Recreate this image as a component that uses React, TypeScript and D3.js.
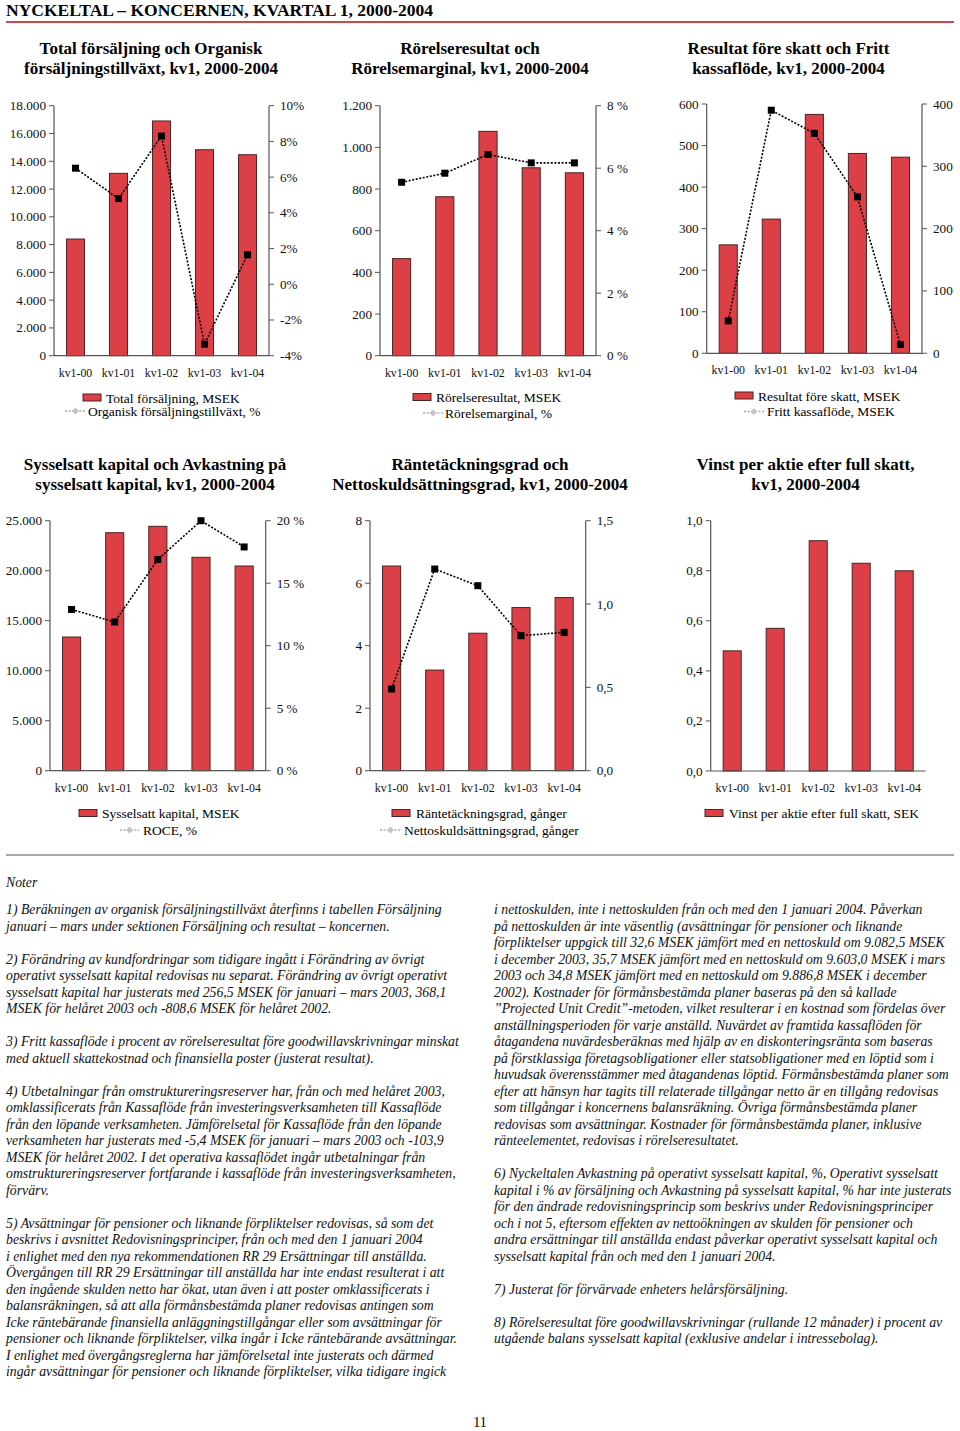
import React from "react";
import * as d3 from "d3";

// ---------- DATA ----------
const categories = ["kv1-00", "kv1-01", "kv1-02", "kv1-03", "kv1-04"];

const totalSales = [8400, 13130, 16900, 14830, 14470];
const organicGrowth = [6.5, 4.8, 8.3, -3.35, 1.65];

const operatingIncome = [466, 763, 1077, 902, 878];
const operatingMargin = [5.55, 5.84, 6.44, 6.17, 6.17];

const incomeBeforeTax = [261, 323, 575, 481, 472];
const freeCashFlow = [52, 390, 353, 251, 14];

const capitalEmployed = [13370, 23800, 24440, 21340, 20470];
const roce = [12.9, 11.9, 16.9, 20.0, 17.9];

const interestCoverage = [6.55, 3.22, 4.4, 5.22, 5.54];
const netDebtEquity = [0.49, 1.21, 1.11, 0.81, 0.83];

const epsAfterTax = [0.48, 0.57, 0.92, 0.83, 0.8];

const ticksSales = [0, 2000, 4000, 6000, 8000, 10000, 12000, 14000, 16000, 18000];
const ticksGrowth = [-4, -2, 0, 2, 4, 6, 8, 10];
const ticksOpInc = [0, 200, 400, 600, 800, 1000, 1200];
const ticksMargin = [0, 2, 4, 6, 8];
const ticksIbt = [0, 100, 200, 300, 400, 500, 600];
const ticksFcf = [0, 100, 200, 300, 400];
const ticksCap = [0, 5000, 10000, 15000, 20000, 25000];
const ticksRoce = [0, 5, 10, 15, 20];
const ticksCov = [0, 2, 4, 6, 8];
const ticksDebt = [0, 0.5, 1.0, 1.5];
const ticksEps = [0, 0.2, 0.4, 0.6, 0.8, 1.0];

const pageTitle = "NYCKELTAL – KONCERNEN, KVARTAL 1, 2000-2004";
const pageNumber = "11";

const notesLeft: string[][] = [
  [
    "1) Beräkningen av organisk försäljningstillväxt återfinns i tabellen Försäljning",
    "januari – mars under sektionen Försäljning och resultat – koncernen.",
  ],
  [
    "2) Förändring av kundfordringar som tidigare ingått i Förändring av övrigt",
    "operativt sysselsatt kapital redovisas nu separat. Förändring av övrigt operativt",
    "sysselsatt kapital har justerats med 256,5 MSEK för januari – mars 2003, 368,1",
    "MSEK för helåret 2003 och -808,6 MSEK för helåret 2002.",
  ],
  [
    "3) Fritt kassaflöde i procent av rörelseresultat före goodwillavskrivningar minskat",
    "med aktuell skattekostnad och finansiella poster (justerat resultat).",
  ],
  [
    "4) Utbetalningar från omstruktureringsreserver har, från och med helåret 2003,",
    "omklassificerats från Kassaflöde från investeringsverksamheten till Kassaflöde",
    "från den löpande verksamheten. Jämförelsetal för Kassaflöde från den löpande",
    "verksamheten har justerats med -5,4 MSEK för januari – mars 2003 och -103,9",
    "MSEK för helåret 2002. I det operativa kassaflödet ingår utbetalningar från",
    "omstruktureringsreserver fortfarande i kassaflöde från investeringsverksamheten,",
    "förvärv.",
  ],
  [
    "5) Avsättningar för pensioner och liknande förpliktelser redovisas, så som det",
    "beskrivs i avsnittet Redovisningsprinciper, från och med den 1 januari 2004",
    "i enlighet med den nya rekommendationen RR 29 Ersättningar till anställda.",
    "Övergången till RR 29 Ersättningar till anställda har inte endast resulterat i att",
    "den ingående skulden netto har ökat, utan även i att poster omklassificerats i",
    "balansräkningen, så att alla förmånsbestämda planer redovisas antingen som",
    "Icke räntebärande finansiella anläggningstillgångar eller som avsättningar för",
    "pensioner och liknande förpliktelser, vilka ingår i Icke räntebärande avsättningar.",
    "I enlighet med övergångsreglerna har jämförelsetal inte justerats och därmed",
    "ingår avsättningar för pensioner och liknande förpliktelser, vilka tidigare ingick",
  ],
];

const notesRight: string[][] = [
  [
    "i nettoskulden, inte i nettoskulden från och med den 1 januari 2004. Påverkan",
    "på nettoskulden är inte väsentlig (avsättningar för pensioner och liknande",
    "förpliktelser uppgick till 32,6 MSEK jämfört med en nettoskuld om 9.082,5 MSEK",
    "i december 2003, 35,7 MSEK jämfört med en nettoskuld om 9.603,0 MSEK i mars",
    "2003 och 34,8 MSEK jämfört med en nettoskuld om 9.886,8 MSEK i december",
    "2002). Kostnader för förmånsbestämda planer baseras på den så kallade",
    "”Projected Unit Credit”-metoden, vilket resulterar i en kostnad som fördelas över",
    "anställningsperioden för varje anställd. Nuvärdet av framtida kassaflöden för",
    "åtagandena nuvärdesberäknas med hjälp av en diskonteringsränta som baseras",
    "på förstklassiga företagsobligationer eller statsobligationer med en löptid som i",
    "huvudsak överensstämmer med åtagandenas löptid. Förmånsbestämda planer som",
    "efter att hänsyn har tagits till relaterade tillgångar netto är en tillgång redovisas",
    "som tillgångar i koncernens balansräkning. Övriga förmånsbestämda planer",
    "redovisas som avsättningar. Kostnader för förmånsbestämda planer, inklusive",
    "ränteelementet, redovisas i rörelseresultatet.",
  ],
  [
    "6) Nyckeltalen Avkastning på operativt sysselsatt kapital, %, Operativt sysselsatt",
    "kapital i % av försäljning och Avkastning på sysselsatt kapital, % har inte justerats",
    "för den ändrade redovisningsprincip som beskrivs under Redovisningsprinciper",
    "och i not 5, eftersom effekten av nettoökningen av skulden för pensioner och",
    "andra ersättningar till anställda endast påverkar operativt sysselsatt kapital och",
    "sysselsatt kapital från och med den 1 januari 2004.",
  ],
  ["7) Justerat för förvärvade enheters helårsförsäljning."],
  [
    "8) Rörelseresultat före goodwillavskrivningar (rullande 12 månader) i procent av",
    "utgående balans sysselsatt kapital (exklusive andelar i intressebolag).",
  ],
];

// ---------- FORMATTERS ----------
const fmtThousands = (v: number) =>
  v === 0 ? "0" : d3.format(",")(v).replace(/,/g, ".");
const fmtPctTight = (v: number) => `${v}%`;
const fmtPctSpace = (v: number) => `${v} %`;
const fmtPlain = (v: number) => `${v}`;
const fmtComma1 = (v: number) => d3.format(".1f")(v).replace(".", ",");

// ---------- STYLES ----------
const SERIF = "'Liberation Serif', 'Times New Roman', serif";
const BAR_FILL = "#dc3f45";
const BAR_STROKE = "#4a2424";
const AXIS = "#555";

type ChartCfg = {
  title: string[];
  titleX: number;
  titleY: number;
  x0: number;
  x1: number;
  yTop: number;
  yBot: number;
  bars: number[];
  barMax: number;
  barTicks: number[];
  barFmt: (v: number) => string;
  line?: number[];
  lineDomain?: [number, number];
  lineTicks?: number[];
  lineFmt?: (v: number) => string;
  barLabel: string;
  lineLabel?: string;
  leg1: [number, number, number];
  leg2?: [number, number, number, number];
};

const charts: ChartCfg[] = [
  {
    title: ["Total försäljning och Organisk", "försäljningstillväxt, kv1, 2000-2004"],
    titleX: 151, titleY: 54,
    x0: 54, x1: 269, yTop: 105.7, yBot: 355.7,
    bars: totalSales, barMax: 18000, barTicks: ticksSales, barFmt: fmtThousands,
    line: organicGrowth, lineDomain: [-4, 10], lineTicks: ticksGrowth, lineFmt: fmtPctTight,
    barLabel: "Total försäljning, MSEK",
    lineLabel: "Organisk försäljningstillväxt, %",
    leg1: [83, 394, 106], leg2: [65, 86, 411, 88],
  },
  {
    title: ["Rörelseresultat och", "Rörelsemarginal, kv1, 2000-2004"],
    titleX: 470, titleY: 54,
    x0: 380, x1: 596, yTop: 105.7, yBot: 355.7,
    bars: operatingIncome, barMax: 1200, barTicks: ticksOpInc, barFmt: fmtThousands,
    line: operatingMargin, lineDomain: [0, 8], lineTicks: ticksMargin, lineFmt: fmtPctSpace,
    barLabel: "Rörelseresultat, MSEK",
    lineLabel: "Rörelsemarginal, %",
    leg1: [413, 393.5, 436], leg2: [423, 443, 413, 445],
  },
  {
    title: ["Resultat före skatt och Fritt", "kassaflöde, kv1, 2000-2004"],
    titleX: 788.5, titleY: 54,
    x0: 706.7, x1: 922, yTop: 104, yBot: 353.3,
    bars: incomeBeforeTax, barMax: 600, barTicks: ticksIbt, barFmt: fmtPlain,
    line: freeCashFlow, lineDomain: [0, 400], lineTicks: ticksFcf, lineFmt: fmtPlain,
    barLabel: "Resultat före skatt, MSEK",
    lineLabel: "Fritt kassaflöde, MSEK",
    leg1: [735, 392, 758], leg2: [744, 764, 411.5, 767],
  },
  {
    title: ["Sysselsatt kapital och Avkastning på", "sysselsatt kapital, kv1, 2000-2004"],
    titleX: 155, titleY: 470,
    x0: 50, x1: 265.7, yTop: 520.7, yBot: 770.7,
    bars: capitalEmployed, barMax: 25000, barTicks: ticksCap, barFmt: fmtThousands,
    line: roce, lineDomain: [0, 20], lineTicks: ticksRoce, lineFmt: fmtPctSpace,
    barLabel: "Sysselsatt kapital, MSEK",
    lineLabel: "ROCE, %",
    leg1: [79, 809.5, 102], leg2: [120, 139, 830, 143],
  },
  {
    title: ["Räntetäckningsgrad och", "Nettoskuldsättningsgrad, kv1, 2000-2004"],
    titleX: 480, titleY: 470,
    x0: 370, x1: 585.7, yTop: 520.7, yBot: 770.7,
    bars: interestCoverage, barMax: 8, barTicks: ticksCov, barFmt: fmtPlain,
    line: netDebtEquity, lineDomain: [0, 1.5], lineTicks: ticksDebt, lineFmt: fmtComma1,
    barLabel: "Räntetäckningsgrad, gånger",
    lineLabel: "Nettoskuldsättningsgrad, gånger",
    leg1: [392, 809.5, 416], leg2: [380, 401, 830, 404],
  },
  {
    title: ["Vinst per aktie efter full skatt,", "kv1, 2000-2004"],
    titleX: 805.5, titleY: 470,
    x0: 710.7, x1: 925.7, yTop: 520.7, yBot: 771,
    bars: epsAfterTax, barMax: 1, barTicks: ticksEps, barFmt: fmtComma1,
    barLabel: "Vinst per aktie efter full skatt, SEK",
    leg1: [705, 809.5, 729],
  },
];

function Chart({ c }: { c: ChartCfg }) {
  const x = d3.scaleBand<string>().domain(categories).range([c.x0, c.x1]).padding(0);
  const yL = d3.scaleLinear().domain([0, c.barMax]).range([c.yBot, c.yTop]);
  const yR = c.lineDomain
    ? d3.scaleLinear().domain(c.lineDomain).range([c.yBot, c.yTop])
    : null;
  const bw = x.bandwidth() * 0.42;
  const cx = (cat: string) => (x(cat) as number) + x.bandwidth() / 2;
  const lineGen = d3
    .line<number>()
    .x((_, i) => cx(categories[i]))
    .y((v) => (yR ? yR(v) : 0));
  const sq = 7;

  return (
    <g>
      {c.title.map((t, i) => (
        <text
          key={i}
          x={c.titleX}
          y={c.titleY + i * 20}
          textAnchor="middle"
          fontFamily={SERIF}
          fontWeight="bold"
          fontSize={17}
          fill="#000"
        >
          {t}
        </text>
      ))}

      {/* bars */}
      {c.bars.map((v, i) => (
        <rect
          key={i}
          x={cx(categories[i]) - bw / 2}
          y={yL(v)}
          width={bw}
          height={yL(0) - yL(v)}
          fill={BAR_FILL}
          stroke={BAR_STROKE}
          strokeWidth={1}
        />
      ))}

      {/* axes */}
      <line x1={c.x0} x2={c.x0} y1={c.yTop} y2={c.yBot} stroke={AXIS} strokeWidth={1.2} />
      <line x1={c.x0} x2={c.x1} y1={c.yBot} y2={c.yBot} stroke={AXIS} strokeWidth={1.2} />
      {c.barTicks.map((t) => (
        <g key={`l${t}`}>
          <line x1={c.x0 - 5} x2={c.x0} y1={yL(t)} y2={yL(t)} stroke={AXIS} strokeWidth={1} />
          <text
            x={c.x0 - 8}
            y={yL(t) + 4.5}
            textAnchor="end"
            fontFamily={SERIF}
            fontSize={13.2}
            fill="#111"
          >
            {c.barFmt(t)}
          </text>
        </g>
      ))}
      {yR && (
        <g>
          <line x1={c.x1} x2={c.x1} y1={c.yTop} y2={c.yBot} stroke={AXIS} strokeWidth={1.2} />
          {c.lineTicks!.map((t) => (
            <g key={`r${t}`}>
              <line x1={c.x1} x2={c.x1 + 5} y1={yR(t)} y2={yR(t)} stroke={AXIS} strokeWidth={1} />
              <text
                x={c.x1 + 11}
                y={yR(t) + 4.5}
                textAnchor="start"
                fontFamily={SERIF}
                fontSize={13.2}
                fill="#111"
              >
                {c.lineFmt!(t)}
              </text>
            </g>
          ))}
        </g>
      )}

      {/* category labels */}
      {categories.map((cat) => (
        <text
          key={cat}
          x={cx(cat)}
          y={c.yBot + 21}
          textAnchor="middle"
          fontFamily={SERIF}
          fontSize={11.8}
          fill="#111"
        >
          {cat}
        </text>
      ))}

      {/* line series */}
      {yR && c.line && (
        <g>
          <path
            d={lineGen(c.line) || ""}
            fill="none"
            stroke="#000"
            strokeWidth={1.6}
            strokeDasharray="2,1.6"
          />
          {c.line.map((v, i) => (
            <rect
              key={i}
              x={cx(categories[i]) - sq / 2}
              y={yR(v) - sq / 2}
              width={sq}
              height={sq}
              fill="#000"
            />
          ))}
        </g>
      )}

      {/* legend */}
      <rect
        x={c.leg1[0]}
        y={c.leg1[1]}
        width={18}
        height={7}
        fill={BAR_FILL}
        stroke={BAR_STROKE}
        strokeWidth={1}
      />
      <text
        x={c.leg1[2]}
        y={c.leg1[1] + 8.5}
        fontFamily={SERIF}
        fontSize={13.5}
        fill="#000"
      >
        {c.barLabel}
      </text>
      {c.leg2 && c.lineLabel && (
        <g>
          <line
            x1={c.leg2[0]}
            x2={c.leg2[1]}
            y1={c.leg2[2]}
            y2={c.leg2[2]}
            stroke="#aaa"
            strokeWidth={1.5}
            strokeDasharray="2,1.6"
          />
          <path
            d={`M${(c.leg2[0] + c.leg2[1]) / 2},${c.leg2[2] - 3.5} l3.5,3.5 l-3.5,3.5 l-3.5,-3.5 Z`}
            fill="#c4c4c4"
          />
          <text
            x={c.leg2[3]}
            y={c.leg2[2] + 4.5}
            fontFamily={SERIF}
            fontSize={13.5}
            fill="#000"
          >
            {c.lineLabel}
          </text>
        </g>
      )}
    </g>
  );
}

function NotesColumn({ paras, x, y0 }: { paras: string[][]; x: number; y0: number }) {
  const step = 16.5;
  const items: { t: string; y: number }[] = [];
  let idx = 0;
  paras.forEach((p, pi) => {
    if (pi > 0) idx += 1;
    p.forEach((line) => {
      items.push({ t: line, y: y0 + idx * step });
      idx += 1;
    });
  });
  return (
    <g>
      {items.map((it, i) => (
        <text
          key={i}
          x={x}
          y={it.y}
          fontFamily={SERIF}
          fontStyle="italic"
          fontSize={13.75}
          fill="#111"
        >
          {it.t}
        </text>
      ))}
    </g>
  );
}

export default function App() {
  return (
    <svg
      width={960}
      height={1431}
      viewBox="0 0 960 1431"
      style={{ position: "absolute", left: 0, top: 0, background: "#fff" }}
    >
      <rect x={0} y={0} width={960} height={1431} fill="#fff" />
      <text x={6} y={15.5} fontFamily={SERIF} fontWeight="bold" fontSize={17.5} fill="#000">
        {pageTitle}
      </text>
      <line x1={6} x2={954} y1={22} y2={22} stroke="#c9494e" strokeWidth={2} />

      {charts.map((c, i) => (
        <Chart key={i} c={c} />
      ))}

      <line x1={6} x2={954} y1={855} y2={855} stroke="#555" strokeWidth={1} />

      <text x={6} y={887} fontFamily={SERIF} fontStyle="italic" fontSize={13.75} fill="#111">
        Noter
      </text>
      <NotesColumn paras={notesLeft} x={6} y0={914} />
      <NotesColumn paras={notesRight} x={494} y0={914} />

      <text x={480} y={1427} textAnchor="middle" fontFamily={SERIF} fontSize={14} fill="#000">
        {pageNumber}
      </text>
    </svg>
  );
}
